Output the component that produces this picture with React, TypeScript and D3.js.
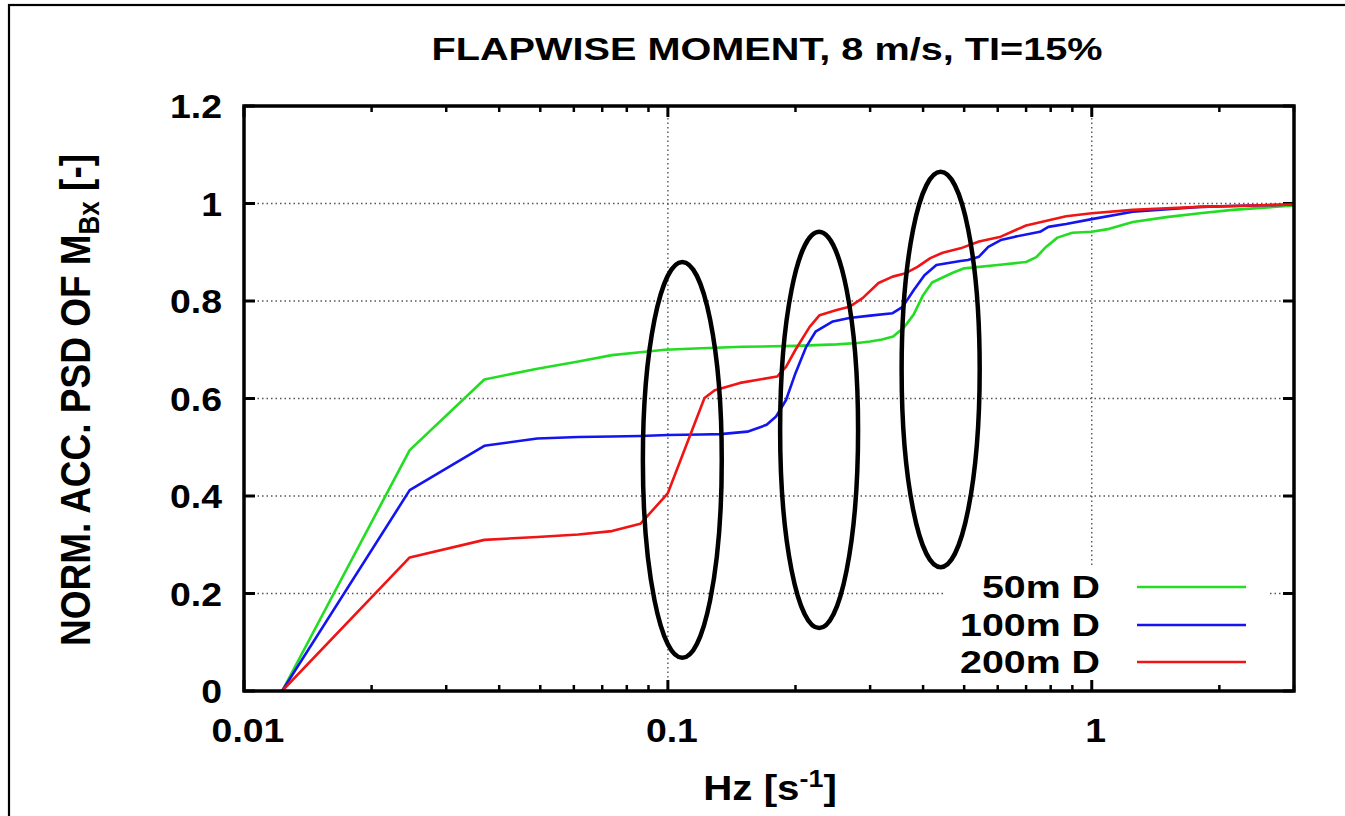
import React from "react";
import * as d3 from "d3";

// ---------- data ----------
const freq50 = [0.0123, 0.0246, 0.0369, 0.0492, 0.0615, 0.0738, 0.0861, 0.0984, 0.12, 0.15, 0.2, 0.25, 0.28, 0.3, 0.32, 0.34, 0.36, 0.38, 0.4, 0.42, 0.47, 0.5, 0.6, 0.7, 0.74, 0.78, 0.83, 0.9, 1.0, 1.1, 1.25, 1.5, 1.8, 2.15, 2.6, 3.0];
const val50 = [0, 0.494, 0.639, 0.661, 0.676, 0.689, 0.695, 0.7, 0.703, 0.706, 0.708, 0.711, 0.714, 0.717, 0.721, 0.727, 0.745, 0.772, 0.812, 0.838, 0.858, 0.867, 0.874, 0.880, 0.890, 0.911, 0.930, 0.940, 0.942, 0.948, 0.962, 0.972, 0.980, 0.987, 0.992, 0.996];

const freq100 = [0.0123, 0.0246, 0.0369, 0.0492, 0.0615, 0.0738, 0.0861, 0.1, 0.12, 0.133, 0.154, 0.171, 0.18, 0.19, 0.2, 0.212, 0.223, 0.245, 0.268, 0.3, 0.339, 0.358, 0.38, 0.403, 0.43, 0.49, 0.51, 0.542, 0.57, 0.61, 0.66, 0.755, 0.79, 0.87, 1.0, 1.25, 1.8, 3.0];
const val100 = [0, 0.412, 0.503, 0.518, 0.521, 0.522, 0.523, 0.525, 0.526, 0.527, 0.532, 0.546, 0.563, 0.597, 0.652, 0.706, 0.737, 0.758, 0.765, 0.770, 0.775, 0.788, 0.822, 0.853, 0.874, 0.882, 0.884, 0.891, 0.911, 0.925, 0.932, 0.942, 0.952, 0.958, 0.968, 0.983, 0.993, 0.998];

const freq200 = [0.0123, 0.0246, 0.0369, 0.0492, 0.0615, 0.0738, 0.0861, 0.0973, 0.1, 0.122, 0.129, 0.148, 0.181, 0.19, 0.2, 0.216, 0.228, 0.249, 0.268, 0.288, 0.314, 0.339, 0.364, 0.388, 0.416, 0.445, 0.49, 0.542, 0.61, 0.7, 0.87, 1.0, 1.25, 1.8, 3.0];
const val200 = [0, 0.274, 0.310, 0.316, 0.321, 0.328, 0.343, 0.394, 0.406, 0.601, 0.617, 0.632, 0.645, 0.665, 0.700, 0.747, 0.771, 0.781, 0.788, 0.806, 0.837, 0.850, 0.857, 0.870, 0.888, 0.899, 0.908, 0.922, 0.932, 0.955, 0.974, 0.980, 0.987, 0.993, 0.998];

const seriesNames = ["50m D", "100m D", "200m D"];
const seriesColors = ["#22dd22", "#1414f0", "#f01414"];

const yTicks = [0, 0.2, 0.4, 0.6, 0.8, 1, 1.2];
const yTickLabels = ["0", "0.2", "0.4", "0.6", "0.8", "1", "1.2"];
const xMajorTicks = [0.01, 0.1, 1];
const xMajorLabels = ["0.01", "0.1", "1"];
const xMinorTicks = [0.02, 0.03, 0.04, 0.05, 0.06, 0.07, 0.08, 0.09, 0.2, 0.3, 0.4, 0.5, 0.6, 0.7, 0.8, 0.9, 2, 3];
const yGrid = [0.2, 0.4, 0.6, 0.8, 1];
const xGrid = [0.1, 1];

// annotation ellipses (data extents)
const ellipseFLeft = [0.0873, 0.184, 0.356];
const ellipseFRight = [0.134, 0.281, 0.544];
const ellipseVTop = [0.88, 0.942, 1.065];
const ellipseVBottom = [0.068, 0.129, 0.254];

const title = "FLAPWISE MOMENT, 8 m/s, TI=15%";

const FONT = "'Liberation Sans', Arial, Helvetica, sans-serif";

function T({ x, y, sx = 1, anchor = "middle", size, children, rotate = 0 }: any) {
  return (
    <g transform={`translate(${x},${y}) scale(${sx},1)${rotate ? ` rotate(${rotate})` : ""}`}>
      <text x={0} y={0} textAnchor={anchor} fontSize={size} fontWeight="bold" fontFamily={FONT} fill="#000">
        {children}
      </text>
    </g>
  );
}

export default function App() {
  const W = 1345, H = 816;
  const x = d3.scaleLog().domain([0.01, 3.0]).range([244, 1294]);
  const y = d3.scaleLinear().domain([0, 1.2]).range([691, 106]);
  const [x0, x1] = x.range();
  const [y0, y1] = y.range();

  const line = d3.line<[number, number]>().x((d) => x(d[0])).y((d) => y(d[1])).curve(d3.curveLinear);
  const series = [
    d3.zip(freq50, val50) as [number, number][],
    d3.zip(freq100, val100) as [number, number][],
    d3.zip(freq200, val200) as [number, number][],
  ];

  const legendRight = 1100;
  const legendRows = [587, 625, 662];
  const legendLine = [1137, 1246];

  return (
    <svg width={W} height={H} style={{ position: "absolute", left: 0, top: 0, background: "#fff" }}>
      <rect x={0} y={0} width={W} height={H} fill="#fff" />
      {/* outer frame */}
      <rect x={9} y={5} width={1400} height={900} fill="none" stroke="#000" strokeWidth={2.2} />

      <defs>
        <clipPath id="plotclip">
          <rect x={x0} y={y1} width={x1 - x0} height={y0 - y1} />
        </clipPath>
      </defs>

      {/* grid */}
      {yGrid.map((v) => (
        <line key={"yg" + v} x1={x0} x2={x1} y1={y(v)} y2={y(v)} stroke="#555" strokeWidth={1.4} strokeDasharray="1.5,3" />
      ))}
      {xGrid.map((v) => (
        <line key={"xg" + v} x1={x(v)} x2={x(v)} y1={y0} y2={y1} stroke="#555" strokeWidth={1.4} strokeDasharray="1.5,3" />
      ))}

      {/* legend opaque box */}
      <rect x={943} y={568} width={327} height={121} fill="#fff" />

      {/* ticks */}
      {yTicks.map((v) => (
        <g key={"yt" + v}>
          <line x1={x0} x2={x0 + 11} y1={y(v)} y2={y(v)} stroke="#000" strokeWidth={3} />
          <line x1={x1} x2={x1 - 11} y1={y(v)} y2={y(v)} stroke="#000" strokeWidth={3} />
        </g>
      ))}
      {xMajorTicks.map((v) => (
        <g key={"xt" + v}>
          <line x1={x(v)} x2={x(v)} y1={y0} y2={y0 - 11} stroke="#000" strokeWidth={3} />
          <line x1={x(v)} x2={x(v)} y1={y1} y2={y1 + 11} stroke="#000" strokeWidth={3} />
        </g>
      ))}
      {xMinorTicks.map((v) => (
        <g key={"xm" + v}>
          <line x1={x(v)} x2={x(v)} y1={y0} y2={y0 - 6} stroke="#000" strokeWidth={2.5} />
          <line x1={x(v)} x2={x(v)} y1={y1} y2={y1 + 6} stroke="#000" strokeWidth={2.5} />
        </g>
      ))}

      {/* series */}
      <g clipPath="url(#plotclip)">
        {series.map((s, i) => (
          <path key={"s" + i} d={line(s) || ""} fill="none" stroke={seriesColors[i]} strokeWidth={2.6} strokeLinejoin="round" />
        ))}
      </g>

      {/* annotation ellipses */}
      {ellipseFLeft.map((fl, i) => {
        const l = x(fl), r = x(ellipseFRight[i]);
        const t = y(ellipseVTop[i]), b = y(ellipseVBottom[i]);
        return (
          <ellipse key={"el" + i} cx={(l + r) / 2} cy={(t + b) / 2} rx={(r - l) / 2} ry={(b - t) / 2} fill="none" stroke="#000" strokeWidth={4.5} />
        );
      })}

      {/* frame */}
      <rect x={x0} y={y1} width={x1 - x0} height={y0 - y1} fill="none" stroke="#000" strokeWidth={3.5} />

      {/* tick labels */}
      {yTicks.map((v, i) => (
        <T key={"yl" + v} x={222} y={y(v) + 12} sx={1.1} anchor="end" size={34}>
          {yTickLabels[i]}
        </T>
      ))}
      {xMajorTicks.map((v, i) => (
        <T key={"xl" + v} x={x(v) + 4} y={742} sx={1.1} anchor="middle" size={34}>
          {xMajorLabels[i]}
        </T>
      ))}

      {/* title */}
      <T x={767} y={60} sx={1.28} size={31}>
        {title}
      </T>

      {/* axis labels */}
      <g transform={`translate(770,800) scale(1.12,1)`}>
        <text x={0} y={0} textAnchor="middle" fontSize={36} fontWeight="bold" fontFamily={FONT}>
          Hz [s<tspan dy={-13} fontSize={24}>-1</tspan>
          <tspan dy={13}>]</tspan>
        </text>
      </g>
      <g transform={`translate(90,400) scale(1.15,1) rotate(-90)`}>
        <text x={0} y={0} textAnchor="middle" fontSize={37} fontWeight="bold" fontFamily={FONT}>
          NORM. ACC. PSD OF M<tspan dy={8} fontSize={26}>Bx</tspan>
          <tspan dy={-8}> [-]</tspan>
        </text>
      </g>

      {/* legend */}
      {seriesNames.map((n, i) => (
        <g key={"lg" + i}>
          <T x={legendRight} y={legendRows[i] + 11} sx={1.23} anchor="end" size={32}>
            {n}
          </T>
          <line x1={legendLine[0]} x2={legendLine[1]} y1={legendRows[i]} y2={legendRows[i]} stroke={seriesColors[i]} strokeWidth={2.6} />
        </g>
      ))}
    </svg>
  );
}
